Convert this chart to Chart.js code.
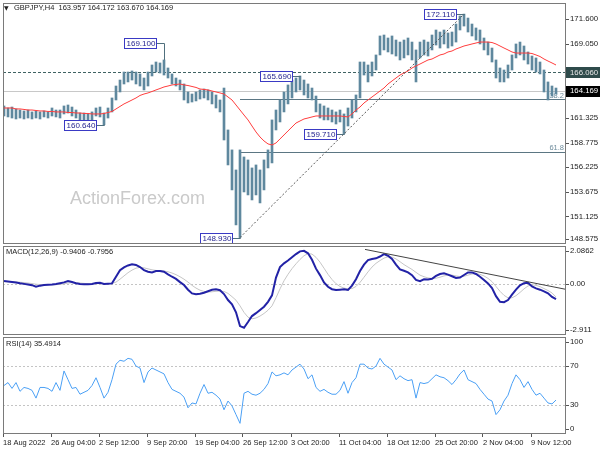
<!DOCTYPE html>
<html>
<head>
<meta charset="utf-8">
<script src="https://cdn.jsdelivr.net/npm/chart.js@4.4.1/dist/chart.umd.min.js"></script>
<style>
html, body { margin: 0; padding: 0; background: #fff; }
#wrap { position: relative; width: 600px; height: 450px; overflow: hidden; }
canvas { position: absolute; left: 0; }
#c1 { top: 0; }
#c2 { top: 245px; }
#c3 { top: 336px; }
</style>
</head>
<body>
<div id="wrap">
  <canvas id="c1" width="600" height="246"></canvas>
  <canvas id="c2" width="600" height="91"></canvas>
  <canvas id="c3" width="600" height="114"></canvas>
</div>
<script>
// GBPJPY H4, one sample per ~2.7 bars
var highs = [162.58, 162.37, 162.47, 162.27, 162.16, 162.06, 162.16, 161.96, 162.06, 161.96,
  162.06, 161.96, 162.37, 162.16, 162.16, 162.58, 162.68, 162.47, 162.16, 161.85,
  161.85, 161.75, 161.96, 162.37, 162.47, 161.85, 162.37, 163.41, 164.65, 165.27,
  166.10, 166.10, 166.21, 166.10, 165.90, 165.48, 166.10, 166.83, 167.14, 167.04,
  167.35, 166.52, 165.90, 165.48, 165.27, 164.86, 164.03, 163.82, 164.03, 164.24,
  164.34, 164.24, 164.03, 163.72, 163.20, 164.44, 160.09, 158.02, 155.94, 158.02,
  157.29, 156.98, 156.15, 156.46, 155.94, 156.98, 158.02, 161.13, 162.16, 163.20,
  164.03, 164.76, 165.27, 165.48, 165.69, 165.27, 164.86, 164.44, 163.61, 162.79,
  162.58, 162.37, 162.16, 161.96, 162.16, 161.75, 162.37, 163.20, 163.72, 167.14,
  167.14, 166.83, 167.14, 167.87, 169.84, 169.94, 169.63, 169.84, 169.42, 169.21,
  169.42, 169.63, 169.21, 168.39, 169.21, 169.42, 169.21, 169.94, 170.46, 170.25,
  170.46, 170.15, 170.25, 171.08, 171.91, 172.11, 171.70, 171.08, 170.67, 170.46,
  169.63, 169.21, 168.59, 167.35, 166.52, 166.31, 166.83, 167.87, 169.01, 169.21,
  168.80, 168.18, 167.76, 167.56, 167.14, 166.31, 165.07, 164.65, 164.44];
var lows = [161.54, 161.44, 161.33, 161.23, 161.33, 161.23, 161.33, 161.23, 161.33, 161.23,
  161.44, 161.33, 161.54, 161.44, 161.33, 161.75, 161.85, 161.54, 161.33, 161.13,
  161.13, 161.02, 161.13, 161.54, 161.44, 160.64, 161.33, 161.96, 163.20, 164.03,
  164.86, 165.07, 165.27, 164.86, 164.65, 164.24, 164.65, 165.69, 166.10, 166.00,
  165.79, 165.48, 164.86, 164.65, 164.24, 163.20, 162.89, 162.99, 163.10, 163.30,
  163.41, 163.20, 162.79, 162.37, 161.96, 159.05, 156.46, 153.87, 150.24, 148.93,
  153.66, 153.35, 152.83, 153.35, 152.52, 153.87, 156.15, 156.67, 160.09, 160.92,
  161.96, 162.79, 163.41, 164.03, 164.24, 163.72, 163.41, 163.20, 161.96, 161.33,
  161.13, 161.13, 160.92, 160.71, 160.92, 159.71, 160.50, 161.33, 161.96, 163.41,
  165.79, 165.07, 165.69, 166.31, 167.87, 168.39, 168.18, 167.97, 167.76, 167.35,
  167.56, 167.87, 167.35, 165.07, 167.56, 167.87, 167.76, 168.39, 168.90, 168.59,
  169.01, 168.59, 168.80, 169.21, 170.46, 170.87, 170.25, 169.84, 169.42, 169.01,
  168.39, 167.87, 167.14, 165.48, 165.07, 165.07, 165.48, 166.31, 167.56, 167.87,
  167.35, 166.93, 166.31, 166.10, 165.90, 164.03, 163.20, 163.61, 163.82];
var ma55 = [162.37, 162.37, 162.37, 162.27, 162.27, 162.22, 162.16, 162.16, 162.11, 162.06,
  162.06, 162.01, 162.01, 161.96, 161.96, 161.96, 161.90, 161.90, 161.85, 161.85,
  161.80, 161.80, 161.75, 161.75, 161.75, 161.80, 161.90, 162.01, 162.27, 162.53,
  162.79, 162.99, 163.20, 163.41, 163.67, 163.82, 163.93, 164.08, 164.24, 164.39,
  164.55, 164.65, 164.76, 164.81, 164.86, 164.76, 164.70, 164.60, 164.50, 164.34,
  164.29, 164.24, 164.13, 164.03, 163.93, 163.82, 163.51, 163.20, 162.68, 162.16,
  161.64, 161.13, 160.50, 159.88, 159.36, 158.95, 158.64, 158.53, 158.74, 159.16,
  159.57, 159.99, 160.40, 160.81, 161.02, 161.23, 161.33, 161.44, 161.54, 161.54,
  161.54, 161.54, 161.54, 161.54, 161.54, 161.49, 161.44, 161.75, 162.16, 162.47,
  162.89, 163.20, 163.51, 163.82, 164.13, 164.44, 164.86, 165.17, 165.48, 165.79,
  166.00, 166.21, 166.52, 166.73, 166.93, 167.14, 167.35, 167.45, 167.66, 167.87,
  167.97, 168.18, 168.28, 168.49, 168.64, 168.80, 168.90, 169.01, 169.11, 169.21,
  169.21, 169.21, 169.16, 169.01, 168.80, 168.59, 168.39, 168.18, 168.07, 168.07,
  168.07, 168.07, 168.02, 167.87, 167.71, 167.45, 167.24, 167.04, 166.83];
var macdLine = [0.19, 0.16, 0.13, 0.10, 0.05, 0.01, -0.03, -0.07, -0.16, -0.10,
  -0.06, -0.04, -0.03, 0.00, 0.05, 0.10, 0.19, 0.13, 0.05, 0.00,
  -0.02, -0.01, 0.00, 0.06, 0.08, 0.00, 0.02, 0.04, 0.45, 0.85,
  1.03, 1.15, 1.22, 1.18, 1.05, 0.86, 0.76, 0.72, 0.80, 0.80,
  0.76, 0.60, 0.45, 0.32, 0.12, -0.06, -0.35, -0.58, -0.63, -0.60,
  -0.54, -0.45, -0.36, -0.33, -0.38, -0.62, -0.99, -1.25, -1.75, -2.60,
  -2.70, -2.35, -1.98, -1.80, -1.60, -1.40, -1.10, -0.70, 0.40, 1.05,
  1.28, 1.45, 1.65, 1.85, 2.02, 2.05, 1.90, 1.50, 0.95, 0.55,
  0.10, -0.17, -0.32, -0.37, -0.35, -0.33, -0.37, -0.10, 0.30, 0.80,
  1.20, 1.48, 1.55, 1.59, 1.70, 1.85, 1.75, 1.55, 1.20, 0.90,
  0.82, 0.72, 0.55, 0.25, 0.18, 0.29, 0.28, 0.32, 0.50, 0.62,
  0.66, 0.58, 0.48, 0.38, 0.40, 0.56, 0.72, 0.72, 0.62, 0.45,
  0.25, 0.04, -0.25, -0.75, -1.10, -1.12, -0.99, -0.65, -0.35, -0.08,
  0.05, 0.08, -0.15, -0.27, -0.35, -0.45, -0.57, -0.80, -0.94];
var signalLine = [0.15, 0.15, 0.14, 0.13, 0.11, 0.09, 0.06, 0.03, -0.01, -0.03,
  -0.05, -0.05, -0.05, -0.04, -0.02, 0.01, 0.06, 0.08, 0.08, 0.06,
  0.04, 0.02, 0.01, 0.02, 0.03, 0.03, 0.02, 0.03, 0.12, 0.30,
  0.50, 0.70, 0.86, 0.98, 1.03, 1.00, 0.94, 0.88, 0.84, 0.82,
  0.80, 0.76, 0.68, 0.58, 0.45, 0.30, 0.12, -0.08, -0.25, -0.38,
  -0.46, -0.49, -0.48, -0.45, -0.43, -0.46, -0.58, -0.78, -1.00, -1.35,
  -1.75, -2.05, -2.15, -2.10, -1.98, -1.82, -1.62, -1.35, -0.85, -0.30,
  0.20, 0.60, 0.95, 1.25, 1.52, 1.75, 1.88, 1.85, 1.65, 1.35,
  0.98, 0.60, 0.28, 0.02, -0.15, -0.25, -0.30, -0.28, -0.15, 0.10,
  0.42, 0.75, 1.05, 1.28, 1.45, 1.60, 1.68, 1.67, 1.55, 1.38,
  1.20, 1.05, 0.90, 0.72, 0.55, 0.45, 0.38, 0.34, 0.36, 0.42,
  0.50, 0.55, 0.55, 0.50, 0.46, 0.48, 0.55, 0.62, 0.64, 0.60,
  0.50, 0.35, 0.15, -0.15, -0.45, -0.70, -0.85, -0.85, -0.72, -0.52,
  -0.30, -0.12, -0.05, -0.08, -0.16, -0.28, -0.40, -0.55, -0.80];
var rsi14 = [50, 53, 47, 53, 44, 48, 47, 45, 37, 48,
  48, 47, 44, 53, 45, 65, 56, 47, 48, 41,
  43, 45, 50, 58, 48, 37, 43, 56, 72, 76,
  75, 78, 77, 70, 68, 53, 64, 68, 66, 64,
  62, 53, 46, 44, 42, 38, 27, 32, 31, 42,
  51, 42, 43, 40, 36, 25, 34, 29, 20, 11,
  42, 44, 41, 40, 42, 46, 52, 64, 60, 61,
  63, 61, 66, 69, 72, 67, 57, 61, 48, 44,
  46, 43, 41, 41, 45, 54, 42, 53, 58, 72,
  72, 68, 67, 70, 78, 72, 69, 66, 56, 60,
  57, 55, 56, 37, 53, 52, 53, 57, 61, 59,
  58, 55, 51, 56, 62, 66, 56, 54, 52, 46,
  41, 36, 34, 20, 25, 34, 40, 52, 61, 56,
  48, 54, 46, 40, 42, 37, 32, 31, 35];

var dateLabels = ['18 Aug 2022', '26 Aug 04:00', '2 Sep 12:00', '9 Sep 20:00', '19 Sep 04:00', '26 Sep 12:00',
  '3 Oct 20:00', '11 Oct 04:00', '18 Oct 12:00', '25 Oct 20:00', '2 Nov 04:00', '9 Nov 12:00'];
var priceTicks = [171.6, 169.05, 161.325, 158.775, 156.225, 153.675, 151.125, 148.575];
var macdTicks = [2.0862, 0, -2.911];
var macdTickText = ['2.0862', '0.00', '-2.911'];
var rsiTicks = [100, 70, 30, 0];
var rsiLevels = [70, 30];

var swingText = ['160.640', '169.100', '148.930', '165.690', '159.710', '172.110'];
var swingPrice = [160.64, 169.10, 148.93, 165.69, 159.71, 172.11];
var swingBar = [25, 40, 59, 74, 85, 115];
var swingIsHigh = [false, true, false, true, false, true];

var lastPrice = 164.169;
var resistLevel = 166.06;
var fibLevels = [38.2, 61.8];
var macdTrend = [{x: 90.25, y: 2.14}, {x: 140.5, y: -0.33}];

var FONT = '"Liberation Sans", Arial, sans-serif';
var samplesPerLabel = 12;

function xScale(show) {
    return {
        type: 'linear', display: show, min: -0.25, max: 140.5, offset: false
    };
}

function drawFrame(chart) {
    var a = chart.chartArea, ctx = chart.ctx;
    ctx.save();
    ctx.strokeStyle = '#7a7a7a';
    ctx.lineWidth = 1;
    ctx.strokeRect(a.left + 0.5, a.top + 0.5, a.right - a.left - 1, a.bottom - a.top - 1);
    ctx.restore();
}

// right-hand value labels, kept inside the panel like the terminal does
function drawAxisLabels(chart, scale, values, texts) {
    var a = chart.chartArea, ctx = chart.ctx;
    ctx.save();
    ctx.font = '7.8px ' + FONT;
    ctx.fillStyle = '#222';
    ctx.strokeStyle = '#555';
    ctx.textBaseline = 'middle';
    values.forEach(function(v, k) {
        var y = scale.getPixelForValue(v);
        y = Math.min(Math.max(y, a.top + 5), a.bottom - 5);
        ctx.beginPath();
        ctx.moveTo(a.right, Math.round(y) + 0.5);
        ctx.lineTo(a.right + 3, Math.round(y) + 0.5);
        ctx.stroke();
        ctx.fillText(texts[k], a.right + 4, y);
    });
    ctx.restore();
}

function hLine(ctx, x1, x2, y, color, dash) {
    ctx.save();
    ctx.strokeStyle = color;
    ctx.lineWidth = 1;
    ctx.setLineDash(dash || []);
    ctx.beginPath();
    ctx.moveTo(x1, Math.round(y) + 0.5);
    ctx.lineTo(x2, Math.round(y) + 0.5);
    ctx.stroke();
    ctx.restore();
}

function priceBox(ctx, a, y, text, bg, fg) {
    ctx.save();
    ctx.fillStyle = bg;
    ctx.fillRect(a.right, Math.round(y) - 5, 34, 11);
    ctx.font = '7.8px ' + FONT;
    ctx.fillStyle = fg;
    ctx.textBaseline = 'middle';
    ctx.fillText(text, a.right + 4, y + 0.5);
    ctx.restore();
}

var pricePanel = {
    id: 'pricePanel',
    beforeDatasetsDraw: function(chart) {
        var ctx = chart.ctx, a = chart.chartArea, xs = chart.scales.x, ys = chart.scales.y;
        ctx.save();
        ctx.font = '18px ' + FONT;
        ctx.fillStyle = '#cacaca';
        ctx.textBaseline = 'middle';
        ctx.fillText('ActionForex.com', a.left + 67, 199);
        ctx.restore();

        hLine(ctx, a.left, a.right, ys.getPixelForValue(lastPrice), '#c8c8c8');
        hLine(ctx, a.left, a.right, ys.getPixelForValue(resistLevel), '#3f6363', [3, 2]);

        var lo = swingPrice[2], hi = swingPrice[5];
        var x0 = xs.getPixelForValue(swingBar[2]);
        fibLevels.forEach(function(f) {
            var y = ys.getPixelForValue(hi - f / 100 * (hi - lo));
            hLine(ctx, x0, a.right, y, '#5b7683');
            ctx.save();
            ctx.font = '7.5px ' + FONT;
            ctx.fillStyle = '#6e8c9c';
            ctx.textAlign = 'right';
            ctx.textBaseline = 'bottom';
            ctx.fillText(f.toFixed(1), a.right - 2, y);
            ctx.restore();
        });
    },
    afterDatasetsDraw: function(chart) {
        var ctx = chart.ctx, a = chart.chartArea, xs = chart.scales.x, ys = chart.scales.y;

        // dashed trend line from the swing low to the swing high
        ctx.save();
        ctx.strokeStyle = '#555';
        ctx.lineWidth = 1;
        ctx.setLineDash([2, 2]);
        ctx.beginPath();
        ctx.moveTo(xs.getPixelForValue(swingBar[2]), ys.getPixelForValue(swingPrice[2]));
        ctx.lineTo(xs.getPixelForValue(swingBar[5]), ys.getPixelForValue(swingPrice[5]));
        ctx.stroke();
        ctx.restore();

        // swing price tags
        ctx.save();
        ctx.font = '8px ' + FONT;
        ctx.textBaseline = 'middle';
        swingText.forEach(function(t, k) {
            var bx = Math.round(xs.getPixelForValue(swingBar[k]));
            var py = Math.round(ys.getPixelForValue(swingPrice[k]));
            var end = ys.getPixelForValue(swingIsHigh[k] ? highs[swingBar[k]] : lows[swingBar[k]]);
            var w = Math.ceil(ctx.measureText(t).width) + 4;
            var right = bx - 7;
            ctx.strokeStyle = '#50707e';
            ctx.beginPath();
            ctx.moveTo(right, py + 0.5);
            ctx.lineTo(bx + 0.5, py + 0.5);
            ctx.lineTo(bx + 0.5, end);
            ctx.stroke();
            ctx.fillStyle = '#fff';
            ctx.fillRect(right - w, py - 5, w, 11);
            ctx.strokeStyle = '#3a3ac4';
            ctx.strokeRect(right - w + 0.5, py - 4.5, w - 1, 10);
            ctx.fillStyle = '#25258f';
            ctx.fillText(t, right - w + 2.5, py + 0.5);
        });
        ctx.restore();

        // symbol header
        ctx.save();
        ctx.fillStyle = '#222';
        ctx.textBaseline = 'middle';
        ctx.font = '6px "DejaVu Sans", sans-serif';
        ctx.fillText('\u25BC', a.left + 1, a.top + 5);
        ctx.font = '7.5px ' + FONT;
        ctx.fillText('GBPJPY,H4  163.957 164.172 163.670 164.169', a.left + 11, a.top + 5);
        ctx.restore();

        drawFrame(chart);
        drawAxisLabels(chart, ys, priceTicks, priceTicks.map(function(v) { return v.toFixed(3); }));
        priceBox(ctx, a, ys.getPixelForValue(resistLevel), resistLevel.toFixed(3), '#2f4b4b', '#e6e6e6');
        priceBox(ctx, a, ys.getPixelForValue(lastPrice), lastPrice.toFixed(3), '#000', '#fff');
    }
};

var macdPanel = {
    id: 'macdPanel',
    beforeDatasetsDraw: function(chart) {
        var a = chart.chartArea;
        hLine(chart.ctx, a.left, a.right, chart.scales.y.getPixelForValue(0), '#c4c4c4', [2, 2]);
    },
    afterDatasetsDraw: function(chart) {
        var ctx = chart.ctx, a = chart.chartArea, xs = chart.scales.x, ys = chart.scales.y;
        ctx.save();
        ctx.beginPath();
        ctx.rect(a.left, a.top, a.right - a.left, a.bottom - a.top);
        ctx.clip();
        ctx.strokeStyle = '#444';
        ctx.lineWidth = 1;
        ctx.beginPath();
        ctx.moveTo(xs.getPixelForValue(macdTrend[0].x), ys.getPixelForValue(macdTrend[0].y));
        ctx.lineTo(xs.getPixelForValue(macdTrend[1].x), ys.getPixelForValue(macdTrend[1].y));
        ctx.stroke();
        ctx.restore();

        ctx.save();
        ctx.font = '7.5px ' + FONT;
        ctx.fillStyle = '#222';
        ctx.textBaseline = 'middle';
        ctx.fillText('MACD(12,26,9) -0.9406 -0.7956', a.left + 3, a.top + 6);
        ctx.restore();
        drawFrame(chart);
        drawAxisLabels(chart, ys, macdTicks, macdTickText);
    }
};

var rsiPanel = {
    id: 'rsiPanel',
    beforeDatasetsDraw: function(chart) {
        var a = chart.chartArea;
        rsiLevels.forEach(function(l) {
            hLine(chart.ctx, a.left, a.right, chart.scales.y.getPixelForValue(l), '#c4c4c4', [2, 2]);
        });
    },
    afterDatasetsDraw: function(chart) {
        var ctx = chart.ctx, a = chart.chartArea;
        ctx.save();
        ctx.font = '7.5px ' + FONT;
        ctx.fillStyle = '#222';
        ctx.textBaseline = 'middle';
        ctx.fillText('RSI(14) 35.4914', a.left + 3, a.top + 7);
        ctx.restore();
        drawFrame(chart);
        drawAxisLabels(chart, chart.scales.y, rsiTicks, rsiTicks.map(String));
    }
};

function points(arr) {
    return arr.map(function(v, i) { return {x: i, y: v}; });
}

var common = {
    responsive: false,
    animation: false,
    events: [],
    plugins: { legend: { display: false }, tooltip: { enabled: false } }
};

document.addEventListener('DOMContentLoaded', function() {
    new Chart(document.getElementById('c1'), {
        type: 'bar',
        data: {
            datasets: [{
                type: 'line',
                data: points(ma55),
                borderColor: '#ff3d3d',
                borderWidth: 1,
                pointRadius: 0
            }, {
                type: 'bar',
                data: highs.map(function(h, i) { return {x: i, y: [lows[i], h]}; }),
                backgroundColor: '#5f889e',
                barThickness: 2,
                borderWidth: 0
            }]
        },
        options: Object.assign({}, common, {
            layout: { padding: { left: 3, right: 34, top: 3, bottom: 2 } },
            scales: {
                x: xScale(false),
                y: { display: false, min: 148.26, max: 173.26 }
            }
        }),
        plugins: [pricePanel]
    });

    new Chart(document.getElementById('c2'), {
        type: 'line',
        data: {
            datasets: [{
                data: points(macdLine),
                borderColor: '#2222a6',
                borderWidth: 2,
                pointRadius: 0
            }, {
                data: points(signalLine),
                borderColor: '#c6c6c6',
                borderWidth: 1,
                pointRadius: 0
            }]
        },
        options: Object.assign({}, common, {
            layout: { padding: { left: 3, right: 34, top: 1, bottom: 1 } },
            scales: {
                x: xScale(false),
                y: { display: false, min: -3.15, max: 2.35 }
            }
        }),
        plugins: [macdPanel]
    });

    var xs3 = xScale(true);
    xs3.afterBuildTicks = function(s) {
        s.ticks = dateLabels.map(function(_, k) { return {value: k * samplesPerLabel - 0.25}; });
    };
    xs3.afterFit = function(s) { s.height = 16; };
    xs3.ticks = {
        autoSkip: false, maxRotation: 0, align: 'start', padding: 1, color: '#222',
        font: { family: FONT, size: 7.5 },
        callback: function(v, idx) { return dateLabels[idx]; }
    };
    xs3.grid = { drawOnChartArea: false, drawTicks: true, tickLength: 3, color: '#555' };
    xs3.border = { display: false };

    new Chart(document.getElementById('c3'), {
        type: 'line',
        data: {
            datasets: [{
                data: points(rsi14),
                borderColor: '#4ba0f5',
                borderWidth: 1,
                pointRadius: 0
            }]
        },
        options: Object.assign({}, common, {
            layout: { padding: { left: 3, right: 34, top: 1, bottom: 0 } },
            scales: {
                x: xs3,
                y: { display: false, min: 0, max: 100 }
            }
        }),
        plugins: [rsiPanel]
    });
});
</script>
</body>
</html>
